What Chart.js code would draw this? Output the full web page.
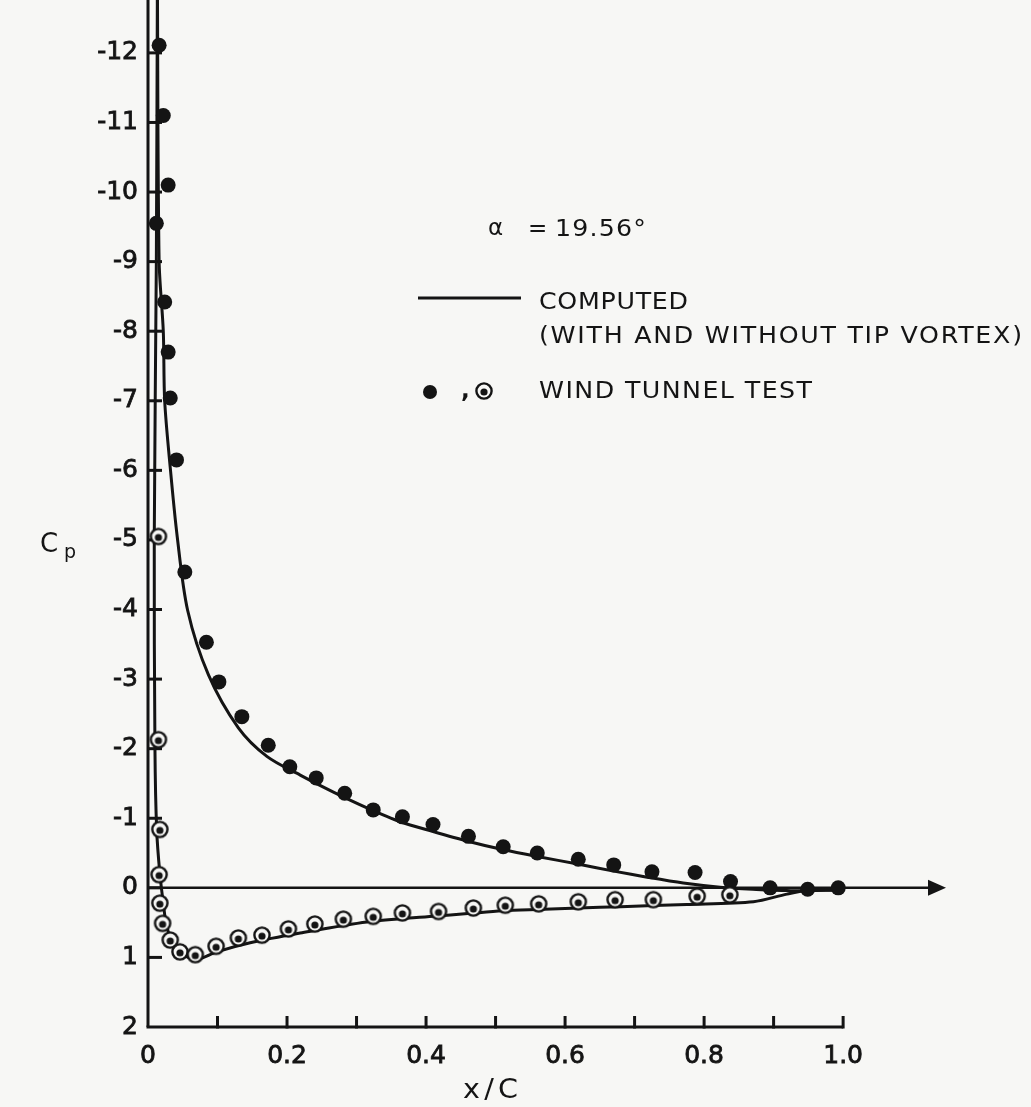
<!DOCTYPE html>
<html>
<head>
<meta charset="utf-8">
<script src="https://cdn.jsdelivr.net/npm/chart.js@4.4.1/dist/chart.umd.min.js"></script>
<style>
  html, body { margin: 0; padding: 0; background: #f7f7f5; }
  canvas { display: block; }
</style>
</head>
<body>
<canvas id="cp" width="1031" height="1107"></canvas>
<script>
// ---- data (x/C, Cp) ----
const xTickLabels = [0, 0.2, 0.4, 0.6, 0.8, 1.0];
const xTickMarks = [0.1, 0.2, 0.3, 0.4, 0.5, 0.6, 0.7, 0.8, 0.9, 1.0];
const yTickLabels = [-12, -11, -10, -9, -8, -7, -6, -5, -4, -3, -2, -1, 0, 1, 2];

// wind tunnel test, upper surface (solid dots)
const upperTestX  = [0.016, 0.022, 0.029, 0.012, 0.024, 0.029, 0.032, 0.041, 0.053, 0.084, 0.102, 0.135, 0.173, 0.204, 0.242, 0.283, 0.324, 0.366, 0.410, 0.461, 0.511, 0.560, 0.619, 0.670, 0.725, 0.787, 0.838, 0.895, 0.949, 0.993];
const upperTestCp = [-12.11, -11.1, -10.1, -9.55, -8.42, -7.70, -7.04, -6.15, -4.54, -3.53, -2.96, -2.46, -2.05, -1.74, -1.58, -1.36, -1.12, -1.02, -0.91, -0.74, -0.59, -0.50, -0.41, -0.33, -0.23, -0.22, -0.09, 0.0, 0.02, 0.0];

// wind tunnel test, lower surface (circled dots)
const lowerTestX  = [0.015, 0.015, 0.017, 0.016, 0.017, 0.021, 0.032, 0.046, 0.068, 0.098, 0.130, 0.164, 0.202, 0.240, 0.281, 0.324, 0.366, 0.418, 0.468, 0.514, 0.562, 0.619, 0.672, 0.727, 0.790, 0.837];
const lowerTestCp = [-5.05, -2.13, -0.84, -0.19, 0.22, 0.51, 0.75, 0.92, 0.96, 0.84, 0.72, 0.68, 0.59, 0.52, 0.45, 0.41, 0.36, 0.34, 0.29, 0.25, 0.23, 0.20, 0.17, 0.17, 0.12, 0.10];

// computed, upper surface
const upperCalcX  = [0.0135, 0.016, 0.022, 0.024, 0.032, 0.042, 0.057, 0.087, 0.130, 0.171, 0.219, 0.266, 0.315, 0.363, 0.410, 0.460, 0.510, 0.560, 0.620, 0.670, 0.720, 0.770, 0.823, 0.870, 0.919, 1.0];
const upperCalcCp = [-13.0, -9.0, -8.0, -7.0, -6.04, -5.05, -3.99, -3.06, -2.30, -1.89, -1.62, -1.38, -1.15, -0.95, -0.81, -0.67, -0.55, -0.45, -0.34, -0.24, -0.15, -0.07, -0.01, 0.02, 0.04, 0.03];

// computed, lower surface
const lowerCalcX  = [0.0135, 0.012, 0.009, 0.010, 0.0125, 0.017, 0.022, 0.027, 0.036, 0.051, 0.070, 0.099, 0.147, 0.219, 0.315, 0.410, 0.460, 0.510, 0.560, 0.620, 0.680, 0.775, 0.871, 0.919, 0.948, 1.0];
const lowerCalcCp = [-13.0, -9.0, -5.0, -2.0, -0.83, -0.21, 0.22, 0.56, 0.79, 0.96, 1.03, 0.92, 0.79, 0.65, 0.49, 0.41, 0.37, 0.33, 0.31, 0.29, 0.27, 0.24, 0.20, 0.09, 0.04, 0.03];

const ink = '#141414';
const paper = '#f7f7f5';
const FONT = "'DejaVu Sans', sans-serif";

const pts = (xs, ys) => xs.map((x, i) => ({ x: x, y: ys[i] }));

// circled-dot marker
const ring = document.createElement('canvas');
ring.width = 22; ring.height = 22;
(() => {
    const g = ring.getContext('2d');
    g.fillStyle = paper;
    g.strokeStyle = ink;
    g.lineWidth = 2.4;
    g.beginPath(); g.arc(11, 11, 7.6, 0, Math.PI * 2); g.fill(); g.stroke();
    g.fillStyle = ink;
    g.beginPath(); g.arc(11, 12, 3.6, 0, Math.PI * 2); g.fill();
})();

// text widened to a target width: a little horizontal stretch, rest as letter spacing
const fitText = (ctx, txt, x, y, w, sx = 1.1) => {
    ctx.save();
    ctx.letterSpacing = '0px';
    const natural = ctx.measureText(txt).width;
    ctx.translate(x, y);
    if ('letterSpacing' in ctx && txt.length > 1) {
        const ls = Math.max((w / sx - natural) / (txt.length - 1), 0);
        ctx.scale(sx, 1);
        ctx.letterSpacing = ls + 'px';
    } else {
        ctx.scale(w / natural, 1);
    }
    ctx.fillText(txt, 0, 0);
    ctx.restore();
};

const line = (ctx, x1, y1, x2, y2) => { ctx.beginPath(); ctx.moveTo(x1, y1); ctx.lineTo(x2, y2); ctx.stroke(); };

const framePlugin = {
    id: 'frame',
    beforeDatasetsDraw(chart) {
        const { ctx, chartArea } = chart;
        const xs = chart.scales.x, ys = chart.scales.y;
        const x0 = xs.getPixelForValue(0);
        const yb = ys.getPixelForValue(2);
        const yz = ys.getPixelForValue(0);
        ctx.save();
        ctx.strokeStyle = ink;
        ctx.fillStyle = ink;
        ctx.lineCap = 'butt';
        ctx.lineWidth = 3;
        line(ctx, x0, yb, x0, chartArea.top);
        line(ctx, x0 - 1.5, yb, xs.getPixelForValue(1), yb);
        xTickMarks.forEach(v => { const p = xs.getPixelForValue(v); line(ctx, p, yb + 1.5, p, yb - 11); });
        yTickLabels.forEach(v => { if (v < 2) { const p = ys.getPixelForValue(v); line(ctx, x0, p, x0 + 14, p); } });
        // zero line with arrow
        ctx.lineWidth = 2.5;
        const tip = chartArea.right;
        line(ctx, x0, yz, tip - 14, yz);
        ctx.beginPath();
        ctx.moveTo(tip, yz); ctx.lineTo(tip - 18, yz - 8); ctx.lineTo(tip - 18, yz + 8); ctx.closePath();
        ctx.fill();
        ctx.restore();
    },
    afterDraw(chart) {
        const { ctx } = chart;
        ctx.save();
        ctx.fillStyle = ink;
        ctx.strokeStyle = ink;
        ctx.textBaseline = 'middle';
        ctx.textAlign = 'left';

        ctx.font = '23px ' + FONT;
        ctx.fillText('\u03b1', 488, 229);
        ctx.fillText('=', 528, 230);
        fitText(ctx, '19.56\u00b0', 555, 230, 91);

        ctx.lineWidth = 3;
        line(ctx, 418, 298, 521, 298);
        fitText(ctx, 'COMPUTED', 539, 303, 149);
        fitText(ctx, '(WITH AND WITHOUT TIP VORTEX)', 539, 337, 483);

        ctx.beginPath(); ctx.arc(430, 392, 7, 0, Math.PI * 2); ctx.fill();
        ctx.font = 'bold 23px ' + FONT;
        ctx.fillText(',', 461, 392);
        ctx.font = '23px ' + FONT;
        ctx.drawImage(ring, 484 - 11, 391 - 11);
        fitText(ctx, 'WIND TUNNEL TEST', 539, 392, 273);

        // axis titles
        ctx.font = '26px ' + FONT;
        ctx.fillText('C', 40, 545);
        ctx.font = '19px ' + FONT;
        ctx.fillText('p', 64, 553);
        ctx.font = '26px ' + FONT;
        fitText(ctx, 'x/C', 463, 1091, 55);
        ctx.restore();
    }
};

new Chart(document.getElementById('cp'), {
    type: 'scatter',
    data: {
        datasets: [
            { label: 'Computed upper', data: pts(upperCalcX, upperCalcCp), showLine: true, borderColor: ink, borderWidth: 3, pointRadius: 0, tension: 0.3, order: 2 },
            { label: 'Computed lower', data: pts(lowerCalcX, lowerCalcCp), showLine: true, borderColor: ink, borderWidth: 3, pointRadius: 0, tension: 0.3, order: 2 },
            { label: 'Test upper', data: pts(upperTestX, upperTestCp), pointStyle: 'circle', pointRadius: 7.5, backgroundColor: ink, borderWidth: 0, order: 1 },
            { label: 'Test lower', data: pts(lowerTestX, lowerTestCp), pointStyle: ring, pointRadius: 8, order: 0 }
        ]
    },
    options: {
        responsive: false,
        animation: false,
        devicePixelRatio: 1,
        layout: { autoPadding: false, padding: { left: 0, right: 85, top: 0, bottom: 0 } },
        plugins: { legend: { display: false }, tooltip: { enabled: false } },
        scales: {
            x: {
                type: 'linear', min: 0, max: 1.148,
                grid: { display: false, drawTicks: false },
                border: { display: false },
                ticks: {
                    color: ink, font: { family: FONT, size: 25 }, padding: 14,
                    textStrokeColor: ink, textStrokeWidth: 0.8,
                    callback: v => v === 0 ? '0' : v.toFixed(1)
                },
                afterBuildTicks: s => { s.ticks = xTickLabels.map(v => ({ value: v })); },
                afterFit: s => { s.height = 80; s.paddingLeft = 0; s.paddingRight = 0; }
            },
            y: {
                type: 'linear', min: -12.76, max: 2, reverse: true,
                grid: { display: false, drawTicks: false },
                border: { display: false },
                ticks: { color: ink, font: { family: FONT, size: 25 }, padding: 10, textStrokeColor: ink, textStrokeWidth: 0.8 },
                afterBuildTicks: s => { s.ticks = yTickLabels.map(v => ({ value: v })); },
                afterFit: s => { s.width = 148; s.paddingTop = 0; s.paddingBottom = 0; }
            }
        }
    },
    plugins: [framePlugin]
});
</script>
</body>
</html>
